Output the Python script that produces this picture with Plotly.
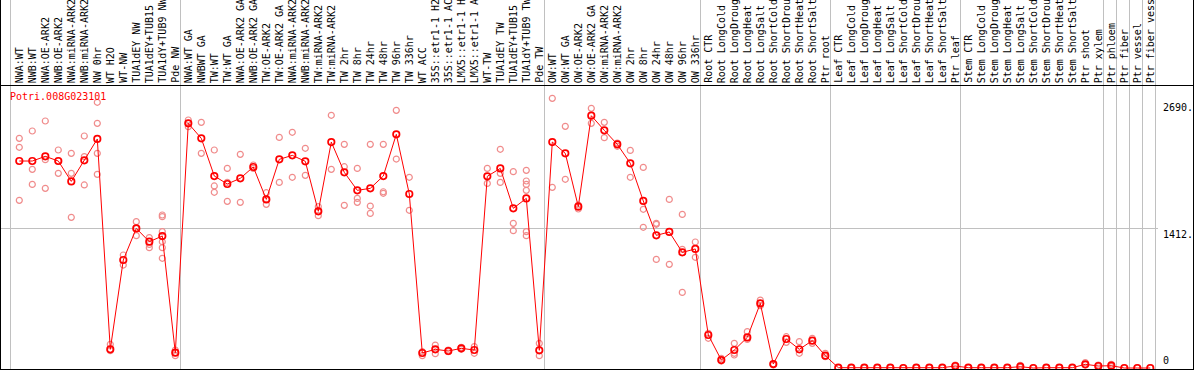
import plotly.graph_objects as go

W, H = 1194, 370

# ---- categories (grouped as in the reference) ----
group1 = ["NWA:WT", "NWB:WT", "NWA:OE-ARK2", "NWB:OE-ARK2", "NWA:miRNA-ARK2", "NWB:miRNA-ARK2",
          "NW 0hr", "WT H2O", "WT-NW", "TUA1dEY NW", "TUA1dEY+TUB15", "TUA1dY+TUB9 NW", "Pde NW"]
group2 = ["NWA:WT GA", "NWBWT GA", "TW:WT", "TW:WT GA", "NWA:OE-ARK2 GA", "NWB:OE-ARK2 GA",
          "TW:OE-ARK2", "TW:OE-ARK2 GA", "NWA:miRNA-ARK2", "NWB:miRNA-ARK2", "TW:miRNA-ARK2",
          "TW:miRNA-ARK2", "TW 2hr", "TW 8hr", "TW 24hr", "TW 48hr", "TW 96hr", "TW 336hr", "WT ACC",
          "35S::etr1-1 H2", "35S::etr1-1 AC", "LMX5::etr1-1 H", "LMX5::etr1-1 A", "WT-TW",
          "TUA1dEY TW", "TUA1dEY+TUB15", "TUA1dY+TUB9 TW", "Pde TW"]
group3 = ["OW:WT", "OW:WT GA", "OW:OE-ARK2", "OW:OE-ARK2 GA", "OW:miRNA-ARK2", "OW:miRNA-ARK2",
          "OW 2hr", "OW 8hr", "OW 24hr", "OW 48hr", "OW 96hr", "OW 336hr"]
group4 = ["Root CTR", "Root LongCold", "Root LongDroug", "Root LongHeat", "Root LongSalt",
          "Root ShortCold", "Root ShortDrou", "Root ShortHeat", "Root ShortSalt", "Ptr root"]
group5 = ["Leaf CTR", "Leaf LongCold", "Leaf LongDroug", "Leaf LongHeat", "Leaf LongSalt",
          "Leaf ShortCold", "Leaf ShortDrou", "Leaf ShortHeat", "Leaf ShortSalt", "Ptr leaf"]
group6 = ["Stem CTR", "Stem LongCold", "Stem LongDroug", "Stem LongHeat", "Stem LongSalt",
          "Stem ShortCold", "Stem ShortDrou", "Stem ShortHeat", "Stem ShortSalt", "Ptr shoot", "Ptr xylem"]
group7 = ["Ptr phloem"]
group8 = ["Ptr fiber"]
group9 = ["Ptr vessel"]
group10 = ["Ptr fiber vessel"]
groups = [group1, group2, group3, group4, group5, group6, group7, group8, group9, group10]
categories = [c for g in groups for c in g]

gene_name = "Potri.008G023101"
ytick_vals = [2690, 1412, 0]
ytick_text = ["2690.", "1412.", "0"]

# ---- mean expression per category ----
means = [
    2083, 2083, 2130, 2083, 1878, 2090, 2305, 188, 1087, 1405, 1271, 1328, 154,
    2462, 2311, 1932, 1852, 1909, 2023, 1697, 2100, 2140, 2080, 1577, 2274, 1969, 1788,
    1808, 1932, 2352, 1751, 151, 188, 171, 198, 181, 1929, 2009, 1607, 1707, 178,
    2274, 2160, 1624, 2539, 2392, 2251, 2060, 1681, 1335, 1369, 1164, 1198,
    332, 80, 181, 308, 650, 40, 292, 188, 275, 124,
    3, 3, 3, 3, 3, 0, 3, 3, 3, 20,
    3, 3, 3, 3, 13, 0, 3, 3, 3, 37, 20, 23, 0, 0, 0,
]

# ---- replicate values per category ----
replicates = [
    [2311, 2221, 1687], [2385, 1999, 1848], [2486, 2097, 1808], [2194, 2083, 1959],
    [2160, 1959, 1516], [2335, 2127, 1842], [2674, 2462, 2160, 1949], [238, 175],
    [1137, 1036], [1473, 1405, 1332], [1312, 1244, 1211], [1540, 1523, 1372, 1271, 1211, 1104],
    [181, 154, 124],
    [2496, 2462, 2429], [2472, 2160], [2194, 1832, 1768], [2009, 1868, 1677], [2150, 1667],
    [2043, 2009], [1764, 1697, 1647], [2321, 1868], [2372, 1919], [2211, 1939],
    [1624, 1580, 1533], [2543, 1999], [2251, 2026, 1637], [2009, 1707, 1667],
    [2251, 1630, 1556], [2251, 1774, 1758], [2593, 2103], [1919, 1587], [164, 124],
    [231, 144], [181, 164], [208, 188], [215, 148], [2009, 1858], [2201, 1959, 1868],
    [1976, 1456, 1382], [1989, 1882, 1848, 1788, 1372, 1332], [248, 124],
    [2714, 1818], [2432, 1899], [1640, 1600], [2613, 2462], [2472, 2318], [2264, 2231],
    [2190, 1919], [2019, 1597, 1416], [1456, 1446, 1093], [1697, 1043], [1546, 1194, 761],
    [1268, 1114],
    [349, 299], [97, 70], [248, 148, 131], [366, 305, 288], [684, 650, 627], [40, 30],
    [315, 258], [265, 148], [299, 248], [148, 114],
    [5, 2], [5, 2], [5, 2], [5, 2], [5, 2], [1, 0], [5, 2], [5, 2], [5, 2], [30, 13],
    [5, 2], [5, 2], [5, 2], [5, 2], [27, 5], [1, 0], [5, 2], [5, 2], [5, 2], [54, 30],
    [30, 13], [37, 13], [1, 0], [1, 0], [1, 0],
]

# ---- layout geometry (pixels) ----
PLOT_TOP = 85          # line separating label band and plot
PLOT_BOT = 369
X0_PX, STEP_PX = 19.3, 13.0
Y0_PX, PX_PER_UNIT = 368.0, 1 / 10.064

def py(p):  # pixel y -> paper
    return (H - p) / H

def pxp(p):  # pixel x -> paper
    return p / W

x_idx = list(range(len(categories)))
rx, ry = [], []
for i, reps in enumerate(replicates):
    for v in reps:
        rx.append(i)
        ry.append(v)

fig = go.Figure()
fig.add_trace(go.Scatter(
    x=rx, y=ry, mode="markers", hoverinfo="skip",
    marker=dict(symbol="circle-open", size=6, color="#f08c8c", line=dict(width=1.2, color="#f08c8c")),
    cliponaxis=False,
))
fig.add_trace(go.Scatter(
    x=x_idx, y=means, mode="lines+markers",
    line=dict(color="#ff0000", width=1),
    marker=dict(symbol="circle-open", size=6.5, color="#ff0000", line=dict(width=1.7, color="#ff0000")),
    cliponaxis=False,
))

xr = [(0 - X0_PX) / STEP_PX, (W - X0_PX) / STEP_PX]
yr = [(Y0_PX - H) / PX_PER_UNIT, (Y0_PX - PLOT_TOP) / PX_PER_UNIT]

shapes = []
GRAY = "#c0c0c0"
# group separators
seps = [-0.7]
end = -1
for g in groups:
    end += len(g)
    seps.append(end + 0.36)
for s in seps:
    xp = round(X0_PX + s * STEP_PX) + 0.5
    shapes.append(dict(type="line", xref="paper", yref="paper", x0=pxp(xp), x1=pxp(xp),
                       y0=py(0), y1=py(PLOT_BOT), line=dict(color=GRAY, width=1), layer="below"))
# midline grid at 1412
gy = round(Y0_PX - 1412 * PX_PER_UNIT) + 0.5
shapes.append(dict(type="line", xref="paper", yref="paper", x0=0, x1=pxp(1158),
                   y0=py(gy), y1=py(gy), line=dict(color=GRAY, width=1), layer="below"))
# black frame lines
for (x0, y0, x1, y1) in [(0, PLOT_TOP + 0.5, W, PLOT_TOP + 0.5),
                         (0, PLOT_BOT + 0.5, W, PLOT_BOT + 0.5),
                         (0.5, 0, 0.5, H),
                         (W - 0.5, 0, W - 0.5, H)]:
    shapes.append(dict(type="line", xref="paper", yref="paper", x0=pxp(x0), x1=pxp(x1),
                       y0=py(y0), y1=py(y1), line=dict(color="black", width=1)))

MONO = "DejaVu Sans Mono, Liberation Mono, monospace"
annotations = []
for i, c in enumerate(categories):
    annotations.append(dict(x=i, xref="x", y=py(PLOT_TOP - 1), yref="paper", text=c[:14],
                            textangle=-90, showarrow=False, xanchor="center", yanchor="bottom",
                            font=dict(family=MONO, size=10, color="black"), borderpad=0))
for v, t in zip(ytick_vals, ytick_text):
    if v == 0:
        annotations.append(dict(x=pxp(1162), xref="paper", y=py(367), yref="paper", text=t,
                                showarrow=False, xanchor="left", yanchor="bottom", borderpad=0,
                                font=dict(family=MONO, size=10, color="black")))
    else:
        annotations.append(dict(x=pxp(1162), xref="paper", y=v, yref="y", text=t,
                                showarrow=False, xanchor="left", yanchor="top", borderpad=0,
                                font=dict(family=MONO, size=10, color="black")))
annotations.append(dict(x=pxp(9), xref="paper", y=py(90), yref="paper", text=gene_name,
                        showarrow=False, xanchor="left", yanchor="top", borderpad=0,
                        font=dict(family=MONO, size=10, color="#ff0000")))

fig.update_layout(
    width=W, height=H, margin=dict(l=0, r=0, t=0, b=0),
    paper_bgcolor="white", plot_bgcolor="white", showlegend=False,
    xaxis=dict(range=xr, domain=[0, 1], showgrid=False, zeroline=False, showticklabels=False,
               showline=False, fixedrange=True),
    yaxis=dict(range=yr, domain=[0, (H - PLOT_TOP) / H], showgrid=False, zeroline=False,
               showticklabels=False, showline=False, fixedrange=True),
    shapes=shapes, annotations=annotations,
)

fig.write_html("out.html", config={"displayModeBar": False},
               post_script="document.body.style.margin='0';document.body.style.overflow='hidden';")
